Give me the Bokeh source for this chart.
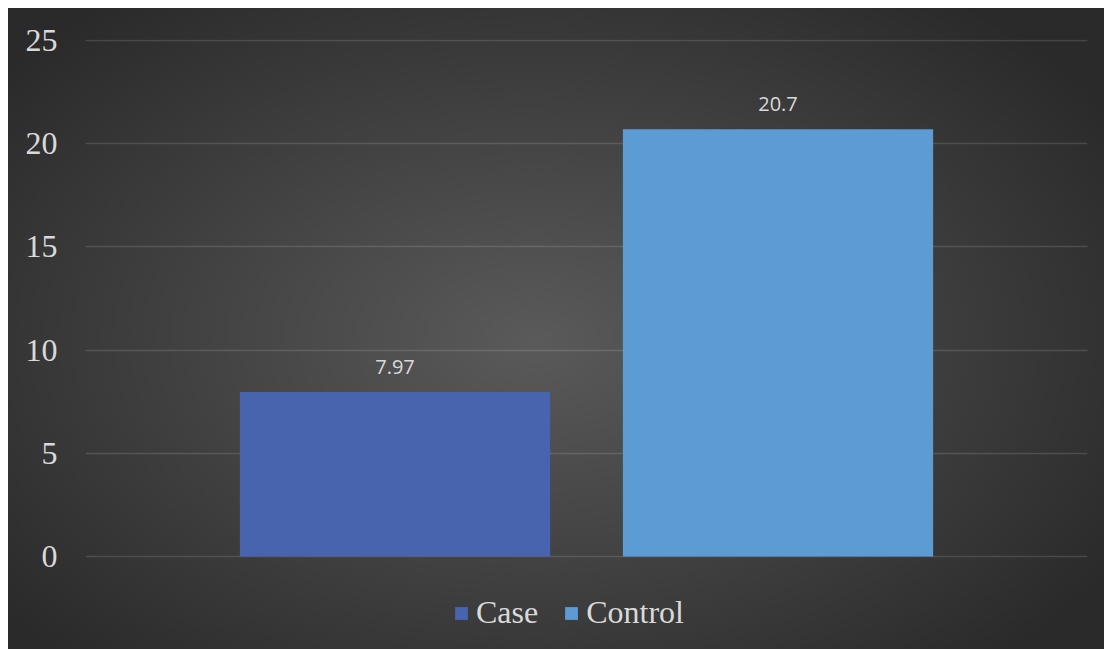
from bokeh.plotting import figure
from bokeh.models import ColumnDataSource, Range1d, FactorRange, LabelSet
from bokeh.core.properties import value
from bokeh.embed import file_html
from bokeh.resources import INLINE

groups = ["Case", "Control"]
values = [7.97, 20.7]
labels = ["7.97", "20.7"]
colors = ["#4964af", "#5d9bd5"]
y_ticks = [0, 5, 10, 15, 20, 25]

src = ColumnDataSource(dict(group=groups, value=values, label=labels, color=colors))

p = figure(
    frame_width=1002, frame_height=610,
    x_range=FactorRange(factors=groups, range_padding=0.308),
    y_range=Range1d(-4.506, 25.0485),
    output_backend="svg", toolbar_location=None,
    min_border_left=77, min_border_right=17, min_border_top=31, min_border_bottom=0,
)
p.margin = (8, 0, 0, 8)
p.styles = {"background": "radial-gradient(ellipse 62% 68% at 48% 52%, #5a5a5a 0%, #474747 40%, #2a2a2a 100%)"}
p.border_fill_color = None
p.background_fill_color = None
p.outline_line_color = None

p.vbar(x="group", top="value", width=0.81, source=src, fill_color="color",
       line_color=None, legend_field="group")

p.add_layout(LabelSet(x="group", y="value", text="label", source=src,
                      text_align="center", text_baseline="bottom", y_offset=18,
                      text_font=value("Open Sans"), text_font_size=value("20px"),
                      text_color="#d9d9d9"))

p.xaxis.visible = False
p.xgrid.grid_line_color = None
p.ygrid.grid_line_color = "#ffffff"
p.ygrid.grid_line_alpha = 0.13
p.ygrid.grid_line_width = 1.5
p.yaxis.ticker = y_ticks
p.yaxis.axis_line_color = None
p.yaxis.major_tick_line_color = None
p.yaxis.minor_tick_line_color = None
p.yaxis.major_tick_out = 0
p.yaxis.major_tick_in = 0
p.yaxis.major_label_standoff = 28
p.yaxis.major_label_text_font = "Liberation Serif"
p.yaxis.major_label_text_font_size = "32px"
p.yaxis.major_label_text_color = "#d9d9d9"

leg = p.legend[0]
leg.orientation = "horizontal"
leg.location = (368, 18)
leg.background_fill_alpha = 0
leg.border_line_color = None
leg.label_text_font = "Liberation Serif"
leg.label_text_font_size = "32px"
leg.label_text_color = "#d9d9d9"
leg.glyph_width = 16
leg.glyph_height = 16
leg.label_standoff = 7
leg.spacing = 25
leg.padding = 0
leg.margin = 0

open("out.html", "w").write(file_html(p, INLINE))
